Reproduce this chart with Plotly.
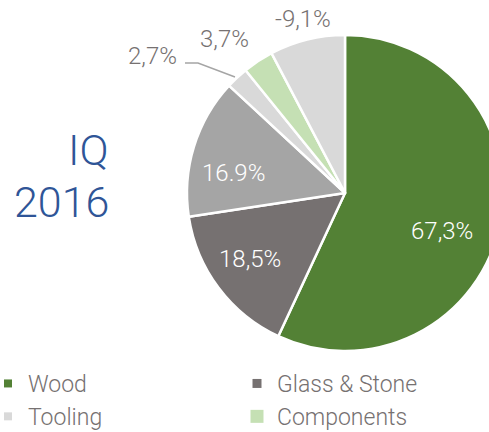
import plotly.graph_objects as go

# ---- data ----
labels = ["Wood", "Glass & Stone", "Other", "Tooling", "Components", "Adjustments"]
values = [67.3, 18.5, 16.9, 2.7, 3.7, 9.1]
label_texts = ["67,3%", "18,5%", "16.9%", "2,7%", "3,7%", "-9,1%"]
slice_colors = ["#538135", "#767171", "#a5a5a5", "#d9d9d9", "#c5e0b4", "#d9d9d9"]
legend_labels = ["Wood", "Glass & Stone", "Tooling", "Components"]
legend_colors = ["#538135", "#767171", "#d9d9d9", "#c5e0b4"]
title_lines = ["IQ", "2016"]

# ---- layout (pixel positions in the 489x432 view, styles) ----
OX = 12            # figure is shifted left by OX px so the legend sits near the edge
W, H = 520, 438    # figure size; the window clips what is outside 489x432
FONT = "Roboto"
GRAY = "#767171"
label_xy = [(442, 231), (250, 259), (233, 173), (152, 56), (224, 39), (303, 19)]
label_inside = [True, True, True, False, False, False]
legend_sizes = [8, 9, 8, 13]
title_xy = [(111, 150), (111, 202)]


def px(x):
    return (x + OX) / W


def py(y):
    return 1 - y / H


fig = go.Figure()
fig.add_trace(go.Pie(
    labels=labels, values=values,
    textinfo="none",
    sort=False, direction="clockwise", rotation=0,
    marker=dict(colors=slice_colors, line=dict(color="white", width=2.5)),
    showlegend=False, hoverinfo="skip",
    domain=dict(x=[px(187), px(503)], y=[py(351), py(35)]),
))

for lab, col, sz in zip(legend_labels, legend_colors, legend_sizes):
    fig.add_trace(go.Scatter(
        x=[None], y=[None], mode="markers", name=lab,
        marker=dict(symbol="square", size=sz, color=col),
        hoverinfo="skip",
    ))

# data labels
for txt, (x, y), inside in zip(label_texts, label_xy, label_inside):
    fig.add_annotation(
        text=txt, x=px(x), y=py(y), xref="paper", yref="paper",
        xanchor="center", yanchor="middle", showarrow=False,
        font=dict(family=FONT, size=24, color="white" if inside else GRAY, weight=300),
    )

# leader line for the 2,7% label
fig.add_shape(
    type="path", xref="paper", yref="paper",
    path=f"M {px(185)} {py(63)} L {px(198)} {py(63)} L {px(235)} {py(77)}",
    line=dict(color="#a5a5a5", width=1.5),
)

# title
for line, (x, y) in zip(title_lines, title_xy):
    fig.add_annotation(
        text=line, x=px(x), y=py(y), xref="paper", yref="paper",
        xanchor="right", yanchor="middle", showarrow=False,
        font=dict(family=FONT, size=43, color="#2f5597", weight=300),
    )

fig.update_layout(
    width=W, height=H,
    margin=dict(l=0, r=0, t=0, b=0),
    paper_bgcolor="white", plot_bgcolor="white",
    xaxis=dict(visible=False), yaxis=dict(visible=False),
    legend=dict(
        orientation="h", x=0, y=0, xanchor="left", yanchor="bottom",
        entrywidth=204, entrywidthmode="pixels",
        font=dict(family=FONT, size=23, color=GRAY, weight=300),
        itemsizing="trace",
    ),
)

fig.write_html(
    "out.html",
    config={"displayModeBar": False},
    post_script=(
        "document.body.style.margin='0';"
        f"document.body.style.marginLeft='-{OX}px';"
        "document.body.style.overflow='hidden';"
        "document.documentElement.style.overflow='hidden';"
    ),
)
